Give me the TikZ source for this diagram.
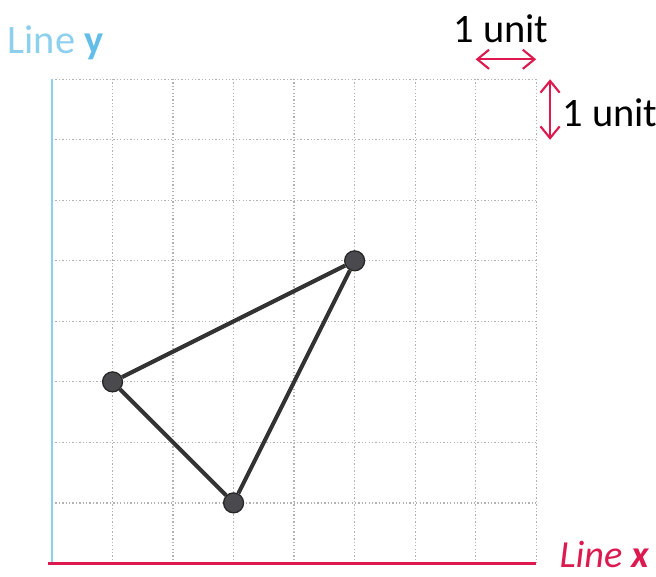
\documentclass[tikz,border=0pt]{standalone}
\usepackage{fontspec}
\setmainfont{Carlito}
\usepackage{tikz}
\usetikzlibrary{arrows.meta}
\usepackage{xcolor}
\definecolor{lineycol}{HTML}{8DD0EE}
\definecolor{lineyboldcol}{HTML}{62BDE8}
\definecolor{linexcol}{HTML}{DC1A4F}
\definecolor{dotcol}{HTML}{4A494E}
\tikzset{
  vertex/.style={circle, fill=dotcol, draw=black!85, line width=0.6pt, inner sep=0pt, minimum size=0.33cm},
  side/.style={line width=1.9pt, draw=black!80},
  unitarrow/.style={<->, linexcol, line width=1pt},
  label/.style={inner sep=0pt, font=\fontsize{19}{22}\selectfont}
}

\begin{document}
\begin{tikzpicture}[>={Straight Barb[length=5.5pt, width=9pt]}]
  \useasboundingbox (-0.86,-0.215) rectangle (9.98,9.31);
  \coordinate (O) at (0,0);
  \coordinate (YT) at (0,8);
  \coordinate (XR) at (8,0);

  \draw[gray!60, densely dotted, line width=0.6pt] (0,0) grid (8,8);
  \draw[lineycol, line width=1.3pt] (O) -- (YT);
  \draw[linexcol, line width=1.5pt] (-0.06,0) -- (XR);

  \node[label, anchor=west, text=lineycol] (ly) at (-0.74,8.61) {Line \textcolor{lineyboldcol}{\textbf{y}}};
  \node[label, anchor=west, text=linexcol, font=\fontsize{18}{21}\selectfont\itshape] (lx) at (8.38,0.15) {Line \textbf{x}};

  \coordinate (HA) at (7,8.33);
  \coordinate (HB) at (8,8.33);
  \draw[unitarrow] (HA) -- (HB);
  \node[label] (hu) at (7.42,8.83) {1 unit};

  \coordinate (VA) at (8.23,8);
  \coordinate (VB) at (8.23,7);
  \draw[unitarrow] (VA) -- (VB);
  \node[label, anchor=west] (vu) at (8.43,7.45) {1 unit};

  \node[vertex] (A) at (1,3) {};
  \node[vertex] (B) at (3,1) {};
  \node[vertex] (C) at (5,5) {};
  \draw[side] (A) -- (B) -- (C) -- (A);
\end{tikzpicture}
\end{document}
